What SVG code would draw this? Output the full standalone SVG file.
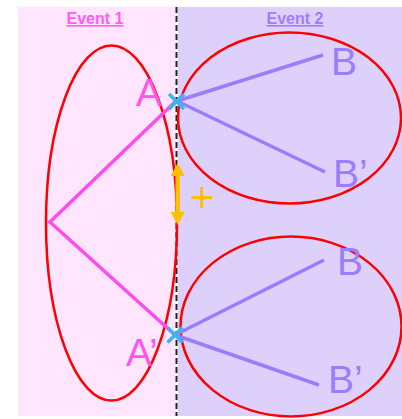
<svg xmlns="http://www.w3.org/2000/svg" width="402" height="419" viewBox="0 0 402 419">
<defs>
<style>
.ell{fill:none;stroke:#ff0000;stroke-width:2.5}
.mag{stroke:#ff4cf0;stroke-width:3.5;fill:none}
.pur{stroke:#9a7cff;stroke-width:3.5;fill:none}
.x{stroke:#3cb4ee;stroke-width:3.5}
.lblA{font-family:"Liberation Sans",Arial,sans-serif;font-size:39px;fill:#ff55ee}
.lblB{font-family:"Liberation Sans",Arial,sans-serif;font-size:39px;fill:#9c7cff}
.hdr{font-family:"Liberation Sans",Arial,sans-serif;font-size:16px;font-weight:bold;text-decoration:underline;text-anchor:middle}
.gold{fill:#ffc000}
</style>
</defs>
<rect x="18" y="7" width="157.5" height="409" fill="#ffe5fd"/>
<rect x="178" y="7" width="224" height="409" fill="#ddd1fb"/>
<line x1="176.5" y1="7" x2="176.5" y2="416" stroke="#222" stroke-width="2" stroke-dasharray="6,3"/>
<text class="hdr" x="95" y="24" fill="#ff5cf5">Event 1</text>
<text class="hdr" x="295" y="24" fill="#a07cff">Event 2</text>
<g id="ellipse-left"><ellipse class="ell" cx="111.5" cy="223" rx="65.5" ry="177.5"/></g>
<g id="ellipse-upper"><ellipse class="ell" cx="289.5" cy="118" rx="111.5" ry="85.5"/></g>
<g id="ellipse-lower"><ellipse class="ell" cx="291" cy="326.5" rx="110.5" ry="90"/></g>
<g id="connectors">
<polyline class="mag" points="176,101 50,222 175,335"/>
<line class="pur" x1="177" y1="101" x2="323" y2="55"/>
<line class="pur" x1="177" y1="101" x2="325" y2="172"/>
<line class="pur" x1="175" y1="335" x2="324" y2="260"/>
<line class="pur" x1="175" y1="335" x2="319" y2="385"/>
<g id="double-arrow">
<line x1="177.7" y1="172" x2="177.7" y2="216" stroke="#ffc000" stroke-width="4.5"/>
<polygon class="gold" points="170.7,176 177.7,163 184.7,176"/>
<polygon class="gold" points="170.7,212 177.7,225 184.7,212"/>
</g>
</g>
<g id="node-A">
<line class="x" x1="169" y1="94" x2="184" y2="109"/>
<line class="x" x1="169" y1="109" x2="184" y2="94"/>
<text class="lblA" x="136" y="106">A</text>
</g>
<g id="node-A2">
<line class="x" x1="167.5" y1="327.5" x2="182.5" y2="342.5"/>
<line class="x" x1="167.5" y1="342.5" x2="182.5" y2="327.5"/>
<text class="lblA" x="126" y="366">A’</text>
</g>
<g id="node-B"><text class="lblB" x="331" y="75">B</text></g>
<g id="node-B2"><text class="lblB" x="333" y="187">B’</text></g>
<g id="node-B3"><text class="lblB" x="337" y="275">B</text></g>
<g id="node-B4"><text class="lblB" x="328" y="393">B’</text></g>
<g id="plus"><text x="202" y="212" font-family="Liberation Sans,Arial,sans-serif" font-size="42" fill="#ffc000" text-anchor="middle">+</text></g>
</svg>
